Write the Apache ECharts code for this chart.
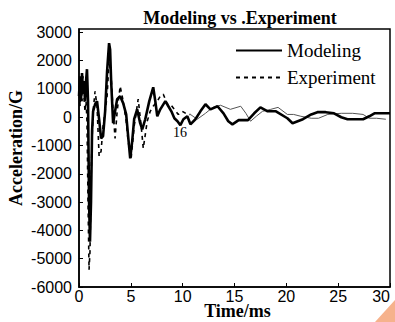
<!DOCTYPE html>
<html>
<head>
<meta charset="utf-8">
<script src="https://cdn.jsdelivr.net/npm/echarts@6/dist/echarts.min.js"></script>
<style>
  html, body { margin: 0; padding: 0; background: #fff; }
  #chart { width: 395px; height: 322px; }
</style>
</head>
<body>
<div id="chart"></div>
<script>
// values (time in ms, acceleration in G)
const modelTime = [0, 0.1, 0.19, 0.29, 0.39, 0.48, 0.58, 0.68, 0.77, 0.87, 0.97, 1.06, 1.16, 1.26, 1.36, 1.55, 1.74, 1.94, 2.13, 2.32, 2.52, 2.71, 2.9, 3.0, 3.1, 3.29, 3.48, 3.68, 3.97, 4.26, 4.55, 4.74, 4.94, 5.13, 5.32, 5.61, 5.9, 6.1, 6.39, 6.78, 7.16, 7.36, 7.55, 7.84, 8.33, 8.62, 8.91, 9.2, 9.5, 9.78, 10.07, 10.45, 10.75, 11.23, 11.71, 12.2, 12.68, 13.36, 13.94, 14.4, 14.8, 15.4, 16.3, 16.9, 17.5, 18.2, 19.0, 20.1, 20.6, 21.6, 22.4, 23.0, 23.8, 24.6, 25.3, 25.9, 27.4, 28.0, 28.5, 30];
const modelAcc = [745, 1450, 570, 1560, 920, 1280, 570, 1280, 1700, 570, -2980, -4400, -2980, -500, 210, 460, 570, -70, -750, -670, 210, 1630, 2620, 2400, 1280, -210, 210, 640, 745, 500, 100, -670, -1450, -850, -70, 280, -210, -430, -70, 570, 1060, 570, 35, 280, 570, 390, 210, -35, -140, -280, -70, 35, -250, -70, 210, 460, 280, 390, 140, -140, -250, -100, -100, 140, 350, 210, 210, -35, -210, -70, 100, 180, 180, 140, 0, -70, -70, 35, 140, 140];

const expTime = [0, 0.1, 0.19, 0.29, 0.39, 0.48, 0.58, 0.68, 0.77, 0.87, 0.97, 1.06, 1.16, 1.26, 1.36, 1.55, 1.74, 1.94, 2.13, 2.32, 2.52, 2.71, 2.9, 3.1, 3.29, 3.48, 3.68, 3.97, 4.26, 4.55, 4.74, 5.03, 5.32, 5.71, 6.0, 6.2, 6.58, 6.87, 7.16, 7.55, 7.84, 8.13, 8.52, 8.81, 9.2, 9.58, 9.97, 10.45, 10.75, 11.4, 12.2, 12.9, 13.65, 14.6, 15.6, 16.1, 16.55, 17.1, 17.7, 18.5, 19.2, 20.1, 20.7, 21.4, 22.4, 23.1, 24.0, 25.3, 26.4, 27.4, 28.0, 28.7, 29.6];
const expAcc = [1100, 390, 1280, 570, 1450, 745, 210, 570, -140, -2980, -5390, -4750, -2270, -850, 210, 920, 390, -1380, -1200, -320, 210, 745, 1990, 1450, 210, -745, 210, 1100, 570, -140, -850, -1450, -320, 640, -320, -1100, -140, 210, 390, 570, 745, 815, 460, 460, 280, 100, 210, 100, 100, -70, 140, 350, 425, 280, 390, 140, -140, 35, 210, 280, 350, 100, 100, 35, -35, -35, 100, 140, 140, 100, -35, -35, -70];

const xTicks = [0, 5, 10, 15, 20, 25, 30];
const yTicks = [-6000, -5000, -4000, -3000, -2000, -1000, 0, 1000, 2000, 3000];

const splitAt = 10.75; // experiment trace turns into a thin grey line after this

const modelData = modelTime.map((t, i) => [t, modelAcc[i]]);
const expAll = expTime.map((t, i) => [t, expAcc[i]]);
const expHead = expAll.filter(p => p[0] <= splitAt);
const expTail = expAll.filter(p => p[0] >= splitAt);

const serif = 'Liberation Serif';
const sans = 'Liberation Sans';

const chart = echarts.init(document.getElementById('chart'), null, { renderer: 'svg' });

chart.setOption({
  animation: false,
  backgroundColor: '#fff',
  title: {
    text: 'Modeling vs .Experiment',
    left: 235,
    top: 4,
    textAlign: 'center',
    textStyle: { fontFamily: serif, fontSize: 18, fontWeight: 'bold', color: '#000' }
  },
  legend: {
    data: ['Modeling', 'Experiment'],
    orient: 'vertical',
    left: 230,
    top: 36,
    itemWidth: 46,
    itemHeight: 14,
    itemGap: 8,
    itemStyle: { opacity: 0 },
    textStyle: { fontFamily: serif, fontSize: 19, color: '#000' }
  },
  grid: {
    left: 79,
    right: 5,
    top: 29,
    bottom: 35,
    outerBoundsMode: 'none',
    show: true,
    borderColor: '#000',
    borderWidth: 1.5
  },
  xAxis: {
    type: 'value',
    min: xTicks[0],
    max: xTicks[xTicks.length - 1],
    interval: 5,
    name: 'Time/ms',
    nameLocation: 'middle',
    nameGap: 16,
    nameMoveOverlap: false,
    nameTextStyle: { fontFamily: serif, fontSize: 18, lineHeight: 16, fontWeight: 'bold', color: '#000', padding: [0, 0, 0, 6] },
    axisLine: { onZero: false, lineStyle: { color: '#000', width: 1.5 } },
    axisTick: { inside: true, length: 4, lineStyle: { color: '#000' } },
    axisLabel: { fontFamily: sans, fontSize: 16, lineHeight: 14, color: '#000', margin: 2, alignMaxLabel: 'right' },
    splitLine: { show: false }
  },
  yAxis: {
    type: 'value',
    min: yTicks[0],
    max: 3120,
    interval: 1000,
    axisLine: { show: true, onZero: false, lineStyle: { color: '#000', width: 1.5 } },
    axisTick: { inside: true, length: 4, lineStyle: { color: '#000' } },
    axisLabel: {
      fontFamily: sans, fontSize: 16, color: '#000', margin: 7,
      showMaxLabel: false,
      formatter: v => (yTicks.includes(v) ? String(v) : '')
    },
    splitLine: { show: false }
  },
  graphic: [
    {
      type: 'text',
      x: 16,
      y: 148,
      rotation: Math.PI / 2,
      style: {
        text: 'Acceleration/G',
        font: 'bold 18px "Liberation Serif"',
        fill: '#000',
        textAlign: 'center',
        textVerticalAlign: 'middle'
      }
    },
    {
      type: 'text',
      x: 173,
      y: 125,
      style: { text: '16', font: '14px "Liberation Serif"', fill: '#000' }
    },
    {
      type: 'polygon',
      shape: { points: [[395, 300], [395, 322], [375, 322]] },
      style: { fill: '#F6B28C' }
    }
  ],
  series: [
    {
      name: 'Experiment',
      type: 'line',
      data: expHead,
      symbol: 'none',
      lineStyle: { color: '#000', width: 1.6, type: [4, 4] },
      itemStyle: { color: '#000' },
      z: 2
    },
    {
      name: 'Experiment tail',
      type: 'line',
      data: expTail,
      symbol: 'none',
      lineStyle: { color: '#555', width: 1 },
      z: 2
    },
    {
      name: 'Modeling',
      type: 'line',
      data: modelData,
      symbol: 'none',
      lineStyle: { color: '#000', width: 2.6 },
      itemStyle: { color: '#000' },
      z: 3
    }
  ]
});
</script>
</body>
</html>
